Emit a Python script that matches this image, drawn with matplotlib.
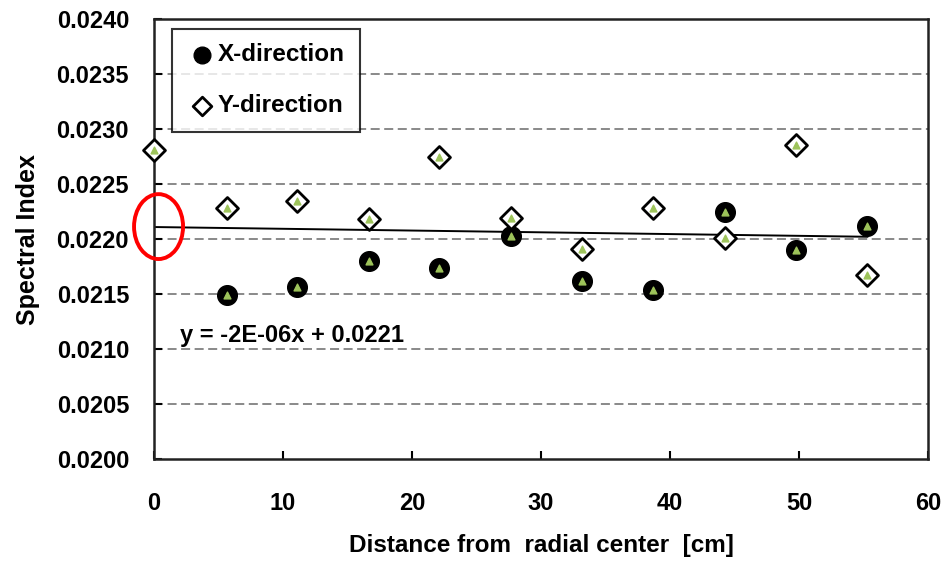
import matplotlib
matplotlib.use("Agg")
import matplotlib.pyplot as plt
from matplotlib.patches import Ellipse
import numpy as np

plt.rcParams['font.family'] = ['Liberation Sans', 'DejaVu Sans']

x_dist_x = [5.65, 11.07, 16.64, 22.06, 27.7, 33.2, 38.7, 44.3, 49.8, 55.3]
spec_x = [0.02149, 0.021564, 0.02180, 0.021736, 0.022027, 0.021618, 0.021536, 0.022245, 0.02190, 0.022118]

x_dist_y = [0.0, 5.65, 11.07, 16.64, 22.06, 27.7, 33.2, 38.7, 44.3, 49.8, 55.3]
spec_y = [0.022809, 0.022282, 0.022345, 0.022182, 0.022745, 0.022191, 0.021909, 0.022282, 0.022009, 0.022855, 0.021673]

trend_slope = -1.6e-6
trend_intercept = 0.02211
trend_x = [0.0, 55.3]
eq_text = "y = -2E-06x + 0.0221"

xticks = [0, 10, 20, 30, 40, 50, 60]
yticks = [0.0200, 0.0205, 0.0210, 0.0215, 0.0220, 0.0225, 0.0230, 0.0235, 0.0240]

fig = plt.figure(figsize=(9.45, 5.62), dpi=100)
ax = fig.add_axes([0.163, 0.183, 0.819, 0.783])

for yv in yticks[1:-1]:
    ax.axhline(yv, color='#808080', lw=1.3, ls=(0, (5, 2.5)), zorder=0)

tx = np.array(trend_x)
ax.plot(tx, trend_slope * tx + trend_intercept, color='black', lw=1.4, zorder=2)

ax.scatter(x_dist_x, spec_x, s=200, marker='o', color='black', zorder=3, label='X-direction', clip_on=False)
ax.scatter(x_dist_y, spec_y, s=125, marker='D', facecolor='white', edgecolor='black', linewidth=2.0, zorder=3,
           label='Y-direction', clip_on=False)
ax.scatter(x_dist_x + x_dist_y, spec_x + spec_y, s=24, marker='^', color='#9dc35a', zorder=4, clip_on=False)

ell = Ellipse((0.35, 0.022114), 3.8, 0.00059, fill=False, edgecolor='red', lw=2.8, zorder=5, clip_on=False)
ax.add_patch(ell)

ax.text(2.0, 0.021015, eq_text, fontsize=17, fontweight='bold', ha='left', va='bottom')

ax.set_xlim(0, 60)
ax.set_ylim(0.0200, 0.0240)
ax.set_xticks(xticks)
ax.set_yticks(yticks)
ax.set_yticklabels([f"{v:.4f}" for v in yticks])
ax.tick_params(direction='in', length=6, width=1.5, labelsize=17)
ax.tick_params(axis='y', pad=18)
ax.tick_params(axis='x', pad=24)
for lab in ax.get_xticklabels() + ax.get_yticklabels():
    lab.set_fontweight('bold')
for sp in ax.spines.values():
    sp.set_linewidth(1.8)
    sp.set_color('#222222')

ax.set_xlabel("Distance from  radial center  [cm]", fontsize=17.5, fontweight='bold', labelpad=13)
ax.set_ylabel("Spectral Index", fontsize=18, fontweight='bold', labelpad=12)

leg = ax.legend(loc='upper left', bbox_to_anchor=(0.023, 0.978), prop={'weight': 'bold', 'size': 17.5},
                frameon=True, fancybox=False, edgecolor='black', handletextpad=0.0, borderpad=0.6,
                labelspacing=1.15, handlelength=1.3, markerscale=0.85, borderaxespad=0)
leg.get_frame().set_linewidth(1.5)
leg.set_zorder(6)

fig.savefig("out.png", dpi=100)
